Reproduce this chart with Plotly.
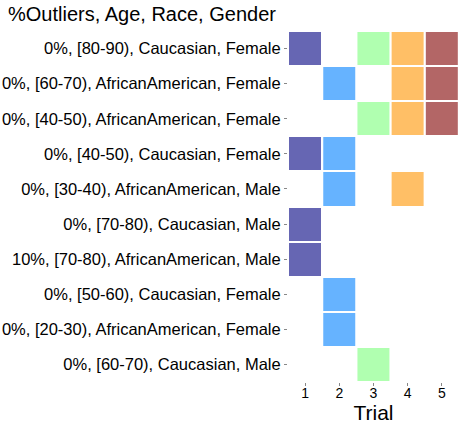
import plotly.graph_objects as go

# rows, top to bottom
rows = [
    "0%, [80-90), Caucasian, Female",
    "0%, [60-70), AfricanAmerican, Female",
    "0%, [40-50), AfricanAmerican, Female",
    "0%, [40-50), Caucasian, Female",
    "0%, [30-40), AfricanAmerican, Male",
    "0%, [70-80), Caucasian, Male",
    "10%, [70-80), AfricanAmerican, Male",
    "0%, [50-60), Caucasian, Female",
    "0%, [20-30), AfricanAmerican, Female",
    "0%, [60-70), Caucasian, Male",
]
trials = [1, 2, 3, 4, 5]
# which trials each row appears in
present = [
    [1, 3, 4, 5],
    [2, 4, 5],
    [3, 4, 5],
    [1, 2],
    [2, 4],
    [1],
    [1],
    [2],
    [2],
    [3],
]
trial_colors = ["#6666b3", "#66b3ff", "#b0ffb0", "#ffbf66", "#b36666"]

fig = go.Figure()
for t, col in zip(trials, trial_colors):
    z = [[1 if t in p else None] for p in present]
    fig.add_trace(go.Heatmap(
        x=[t], y=rows, z=z,
        colorscale=[[0, col], [1, col]],
        showscale=False, xgap=2, ygap=2, hoverinfo="skip",
    ))

fig.update_layout(
    width=459, height=424,
    margin=dict(l=288, r=0, t=31, b=42),
    plot_bgcolor="white", paper_bgcolor="white",
    font=dict(family="Liberation Sans, Arial, sans-serif", color="black", size=16.5),
    title=dict(text="%Outliers, Age, Race, Gender", x=8 / 459, xanchor="left",
               y=1 - 14 / 424, yanchor="middle", font=dict(size=20)),
    xaxis=dict(range=[0.5, 5.5], tickvals=trials, ticks="outside", ticklen=3,
               tickcolor="#888", showgrid=False, zeroline=False, showline=False,
               automargin=False, tickfont=dict(size=14), ticklabelstandoff=-5,
               title=dict(text="Trial", font=dict(size=21), standoff=8)),
    yaxis=dict(categoryorder="array", categoryarray=rows[::-1], ticks="outside",
               ticklen=3, tickcolor="#888", showgrid=False, zeroline=False,
               showline=False, automargin=False),
)

# drop the default page margin so the figure sits at the window's corner
fig.write_html("out.html", config={"displayModeBar": False},
               post_script="document.body.style.margin='0';")
